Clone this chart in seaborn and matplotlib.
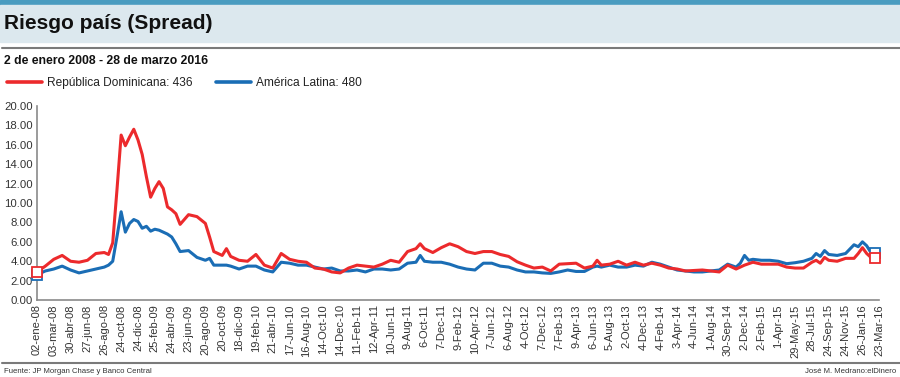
"""
Riesgo país (Spread): República Dominicana vs América Latina, 2008-2016
"""
import matplotlib
matplotlib.use('Agg')
import matplotlib.pyplot as plt
from matplotlib.lines import Line2D
import seaborn as sns
import pandas as pd

sns.set_theme(style='white')
plt.rcParams['font.family'] = ['Liberation Sans', 'DejaVu Sans']

RED = '#EC2A2C'
BLUE = '#1A6DB5'

# Etiquetas del eje x (una cada ~2 meses)
tick_labels = ['02-ene-08', '03-mar-08', '30-abr-08', '27-jun-08', '26-ago-08', '24-oct-08',
               '24-dic-08', '25-feb-09', '24-abr-09', '23-jun-09', '20-ago-09', '20-oct-09',
               '18-dic-09', '19-feb-10', '21-abr-10', '17-Jun-10', '16-Aug-10', '14-Oct-10',
               '14-Dec-10', '11-Feb-11', '12-Apr-11', '10-Jun-11', '9-Aug-11', '6-Oct-11',
               '7-Dec-11', '9-Feb-12', '10-Apr-12', '7-Jun-12', '6-Aug-12', '4-Oct-12',
               '7-Dec-12', '7-Feb-13', '9-Apr-13', '6-Jun-13', '5-Aug-13', '2-Oct-13',
               '4-Dec-13', '4-Feb-14', '3-Apr-14', '4-Jun-14', '1-Aug-14', '30-Sep-14',
               '2-Dec-14', '2-Feb-15', '1-Apr-15', '29-May-15', '28-Jul-15', '24-Sep-15',
               '24-Nov-15', '26-Jan-16', '23-Mar-16']

# posición en unidades de etiqueta (0 = 02-ene-08)
t = [0.0, 0.5, 1.0, 1.5, 2.0, 2.5, 3.0, 3.5, 4.0, 4.25, 4.5, 4.75, 5.0, 5.25, 5.5, 5.75,
     6.0, 6.25, 6.5, 6.75, 7.0, 7.25, 7.5, 7.75, 8.0, 8.25, 8.5, 9.0, 9.5, 10.0, 10.25,
     10.5, 11.0, 11.25, 11.5, 12.0, 12.5, 13.0, 13.5, 14.0, 14.5, 15.0, 15.5, 16.0, 16.5,
     17.0, 17.5, 18.0, 18.5, 19.0, 19.5, 20.0, 20.5, 21.0, 21.5, 22.0, 22.5, 22.75, 23.0,
     23.5, 24.0, 24.5, 25.0, 25.5, 26.0, 26.5, 27.0, 27.5, 28.0, 28.5, 29.0, 29.5, 30.0,
     30.5, 31.0, 31.5, 32.0, 32.5, 33.0, 33.25, 33.5, 34.0, 34.5, 35.0, 35.5, 36.0, 36.5,
     37.0, 37.5, 38.0, 38.5, 39.0, 39.5, 40.0, 40.5, 41.0, 41.5, 41.75, 42.0, 42.25, 42.5,
     43.0, 43.5, 44.0, 44.5, 45.0, 45.5, 46.0, 46.25, 46.5, 46.75, 47.0, 47.5, 48.0, 48.5,
     48.75, 49.0, 49.25, 49.5]

# República Dominicana (puntos porcentuales)
rd = [2.9, 3.5, 4.2, 4.6, 4.0, 3.9, 4.1, 4.8, 4.9, 4.7, 5.9, 11.3, 17.0, 15.9, 16.8, 17.6,
      16.5, 15.0, 12.7, 10.6, 11.5, 12.2, 11.5, 9.6, 9.3, 8.9, 7.8, 8.8, 8.6, 7.9, 6.5,
      5.0, 4.6, 5.3, 4.5, 4.1, 4.0, 4.7, 3.6, 3.3, 4.8, 4.2, 4.0, 3.9, 3.3,
      3.2, 2.9, 2.8, 3.3, 3.6, 3.5, 3.4, 3.7, 4.1, 3.9, 5.0, 5.3, 5.8, 5.3,
      4.9, 5.4, 5.8, 5.5, 5.0, 4.8, 5.0, 5.0, 4.7, 4.5, 3.95, 3.6, 3.3, 3.4,
      3.0, 3.7, 3.75, 3.8, 3.3, 3.5, 4.1, 3.6, 3.7, 4.0, 3.6, 3.9, 3.6, 3.8,
      3.6, 3.3, 3.2, 3.0, 3.05, 3.1, 3.0, 2.9, 3.6, 3.2, 3.4, 3.6, 3.75, 3.9,
      3.7, 3.7, 3.7, 3.4, 3.3, 3.3, 3.9, 4.1, 3.8, 4.4, 4.1, 4.0, 4.3, 4.3,
      4.8, 5.4, 4.8, 4.4]

# América Latina
al = [2.6, 3.0, 3.2, 3.5, 3.1, 2.8, 3.0, 3.2, 3.4, 3.6, 4.0, 6.5, 9.1, 7.0, 7.9, 8.3,
      8.1, 7.4, 7.6, 7.1, 7.3, 7.2, 7.0, 6.8, 6.5, 5.8, 5.0, 5.1, 4.4, 4.1, 4.3,
      3.6, 3.6, 3.6, 3.5, 3.2, 3.5, 3.5, 3.1, 2.9, 3.9, 3.8, 3.6, 3.6, 3.4,
      3.2, 3.3, 3.0, 3.0, 3.1, 2.9, 3.2, 3.2, 3.1, 3.2, 3.8, 3.9, 4.6, 4.0,
      3.9, 3.9, 3.7, 3.4, 3.2, 3.1, 3.8, 3.8, 3.5, 3.4, 3.1, 2.9, 2.9, 2.8,
      2.75, 2.9, 3.1, 2.95, 2.95, 3.4, 3.5, 3.4, 3.6, 3.4, 3.4, 3.6, 3.5, 3.9,
      3.7, 3.4, 3.1, 3.0, 2.9, 2.9, 3.0, 3.1, 3.7, 3.4, 3.8, 4.6, 4.1, 4.2,
      4.1, 4.1, 4.0, 3.75, 3.85, 4.0, 4.3, 4.8, 4.5, 5.1, 4.7, 4.6, 4.8, 5.7,
      5.5, 6.0, 5.6, 4.9]

series = ['República Dominicana: 436', 'América Latina: 480']
last_values = [4.36, 4.80]   # 436 y 480 pb
first_values = [2.9, 2.6]

df = pd.concat([
    pd.DataFrame({'t': t, 'spread': al, 'serie': series[1]}),
    pd.DataFrame({'t': t, 'spread': rd, 'serie': series[0]}),
])

fig = plt.figure(figsize=(9, 3.77), dpi=100)
ax = fig.add_axes([0.041, 0.204, 0.936, 0.515])

sns.lineplot(data=df, x='t', y='spread', hue='serie', hue_order=[series[1], series[0]],
             palette={series[0]: RED, series[1]: BLUE}, linewidth=2.2, ax=ax,
             estimator=None, sort=False, legend=False)

# marcadores de inicio y fin (cuadros vacíos)
for vals, x0 in [(first_values, 0.0), (last_values, 49.75)]:
    for v, c in zip(vals[::-1], [BLUE, RED]):
        ax.plot([x0], [v], marker='s', ms=7, mfc='white', mec=c, mew=1.3,
                linestyle='none', clip_on=False, zorder=5)

ax.set_xlim(0, 50)
ax.set_ylim(0, 20)
ax.set_yticks(range(0, 21, 2))
ax.set_yticklabels([f'{v:.2f}' for v in range(0, 21, 2)], fontsize=8.2, color='#333333')
ax.set_xticks(range(len(tick_labels)))
ax.set_xticklabels(tick_labels, rotation=90, fontsize=8, color='#333333')
ax.tick_params(axis='both', length=0, pad=3)
ax.set_xlabel('')
ax.set_ylabel('')
sns.despine(ax=ax)
for s in ['left', 'bottom']:
    ax.spines[s].set_color('#8a8a8a')
    ax.spines[s].set_linewidth(1.2)

# leyenda arriba
handles = [Line2D([], [], color=RED, lw=2.6), Line2D([], [], color=BLUE, lw=2.6)]
fig.legend(handles, series, loc='center left', bbox_to_anchor=(-0.004, 0.779), ncol=2,
           frameon=False, fontsize=8.6, handlelength=2.9, handletextpad=0.45,
           columnspacing=1.95, labelcolor='#222222')

# cabecera
fig.patches.append(plt.Rectangle((0, 0.988), 1, 0.012, transform=fig.transFigure,
                                 color='#4A9CC0', zorder=0))
fig.patches.append(plt.Rectangle((0, 0.889), 1, 0.099, transform=fig.transFigure,
                                 color='#DCE8EE', zorder=0))
fig.text(0.004, 0.937, 'Riesgo país (Spread)', fontsize=15, fontweight='bold',
         va='center', ha='left', color='#111111')
fig.add_artist(Line2D([0.002, 1], [0.873, 0.873], transform=fig.transFigure,
                      color='#7a7a7a', lw=1.5))
fig.text(0.004, 0.838, '2 de enero 2008 - 28 de marzo 2016', fontsize=8.8,
         fontweight='bold', va='center', ha='left', color='#111111')

# pie
fig.add_artist(Line2D([0.002, 1], [0.037, 0.037], transform=fig.transFigure,
                      color='#7a7a7a', lw=1.5))
fig.text(0.004, 0.015, 'Fuente: JP Morgan Chase y Banco Central', fontsize=5.6,
         va='center', ha='left', color='#333333')
fig.text(0.996, 0.015, 'José M. Medrano:elDinero', fontsize=5.6,
         va='center', ha='right', color='#333333')

fig.savefig('out.png', dpi=100)
plt.close(fig)
